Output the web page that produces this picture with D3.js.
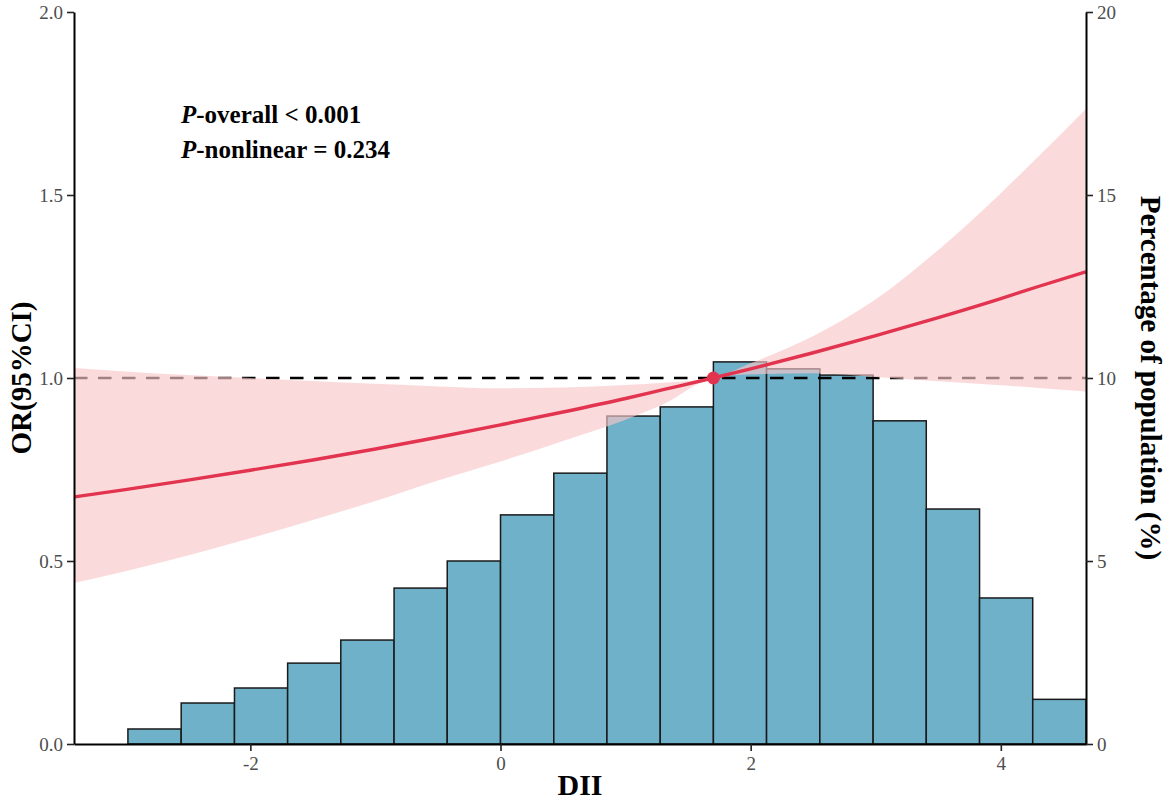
<!DOCTYPE html>
<html>
<head>
<meta charset="utf-8">
<script src="https://cdn.jsdelivr.net/npm/d3@7"></script>
<style>
  body { margin: 0; background: #fff; }
  svg { display: block; font-family: "Liberation Serif", "Times New Roman", serif; }
  .tick text { fill: #4d4d4d; font-size: 19px; font-family: "Liberation Serif", "Times New Roman", serif; }
  .tick line { stroke: #222; stroke-width: 1.6; }
  .domain { stroke: #000; stroke-width: 2; }
</style>
</head>
<body>
<svg id="chart" width="1170" height="801"></svg>
<script>
// histogram of DII (percentage of population per bin)
const BIN_EDGES = [-2.979, -2.553, -2.127, -1.702, -1.277, -0.851, -0.426, 0, 0.426, 0.851,
  1.277, 1.702, 2.127, 2.553, 2.979, 3.404, 3.830, 4.255, 4.681];
const BIN_PCT = [0.41, 1.12, 1.53, 2.21, 2.84, 4.26, 5.0, 6.26, 7.40, 8.96,
  9.21, 10.44, 10.25, 10.08, 8.83, 6.42, 3.99, 1.22];

// restricted cubic spline estimate with 95% CI
const DII = [-3.41, -3.0, -2.5, -2.0, -1.5, -1.0, -0.5, 0, 0.5, 1.0, 1.3, 1.7, 2.0, 2.5, 3.0, 3.5, 4.0, 4.3, 4.68];
const OR = [0.675, 0.695, 0.721, 0.748, 0.776, 0.806, 0.838, 0.872, 0.907, 0.944, 0.968, 1.0, 1.025, 1.069, 1.116, 1.165, 1.217, 1.25, 1.29];
const OR_LOWER = [0.44, 0.472, 0.515, 0.562, 0.612, 0.664, 0.72, 0.772, 0.828, 0.886, 0.928, 1.0, 1.01, 1.013, 1.003, 0.991, 0.98, 0.973, 0.963];
const OR_UPPER = [1.027, 1.018, 1.008, 1.0, 0.992, 0.984, 0.977, 0.972, 0.974, 0.981, 0.987, 1.0, 1.04, 1.115, 1.215, 1.35, 1.505, 1.605, 1.735];

const REF_DII = 1.702;
const REF_OR = 1;

const X_TICKS = [-2, 0, 2, 4];
const OR_TICKS = [0, 0.5, 1, 1.5, 2];
const PCT_TICKS = [0, 5, 10, 15, 20];

var svg = d3.select("#chart");
var margin = { top: 12, bottom: 57, left: 74, right: 84 };
var width = 1170, height = 801;

var xScale = d3.scaleLinear().domain([-3.41, 4.681]).range([margin.left, width - margin.right]);
var yScale = d3.scaleLinear().domain([0, 2]).range([height - margin.bottom, margin.top]);
var pctScale = d3.scaleLinear().domain([0, 20]).range([height - margin.bottom, margin.top]);

var bars = BIN_PCT.map((p, i) => ({ x0: BIN_EDGES[i], x1: BIN_EDGES[i + 1], pct: p }));
var spline = DII.map((d, i) => ({ x: d, or: OR[i], lo: OR_LOWER[i], hi: OR_UPPER[i] }));

//HISTOGRAM
svg.append("g")
  .selectAll("rect")
  .data(bars)
  .join("rect")
  .attr("x", (d) => xScale(d.x0))
  .attr("y", (d) => pctScale(d.pct))
  .attr("width", (d) => xScale(d.x1) - xScale(d.x0))
  .attr("height", (d) => pctScale(0) - pctScale(d.pct))
  .attr("fill", "#6fb1c9")
  .attr("stroke", "#1a1a1a")
  .attr("stroke-width", 1.5);

//REFERENCE LINE OR = 1
svg.append("line")
  .attr("x1", xScale.range()[0])
  .attr("x2", xScale.range()[1])
  .attr("y1", yScale(1))
  .attr("y2", yScale(1))
  .attr("stroke", "#000")
  .attr("stroke-width", 2.4)
  .attr("stroke-dasharray", "13.5,10.5");

//CONFIDENCE BAND
var area = d3.area()
  .x((d) => xScale(d.x))
  .y0((d) => yScale(d.lo))
  .y1((d) => yScale(d.hi))
  .curve(d3.curveMonotoneX);

svg.append("path")
  .datum(spline)
  .attr("d", area)
  .attr("fill", "#f9c6c9")
  .attr("fill-opacity", 0.65);

//OR CURVE
var line = d3.line()
  .x((d) => xScale(d.x))
  .y((d) => yScale(d.or))
  .curve(d3.curveMonotoneX);

svg.append("path")
  .datum(spline)
  .attr("d", line)
  .attr("fill", "none")
  .attr("stroke", "#e2344f")
  .attr("stroke-width", 3.4);

svg.append("circle")
  .attr("cx", xScale(REF_DII))
  .attr("cy", yScale(REF_OR))
  .attr("r", 6.5)
  .attr("fill", "#e2344f");

//AXES
svg.append("g")
  .attr("transform", `translate(0,${height - margin.bottom})`)
  .call(d3.axisBottom(xScale).tickValues(X_TICKS).tickFormat((d) => String(d)).tickSize(7).tickSizeOuter(0).tickPadding(6));

svg.append("g")
  .attr("transform", `translate(${margin.left},0)`)
  .call(d3.axisLeft(yScale).tickValues(OR_TICKS).tickFormat(d3.format(".1f")).tickSize(7).tickSizeOuter(0).tickPadding(4));

svg.append("g")
  .attr("transform", `translate(${width - margin.right},0)`)
  .call(d3.axisRight(pctScale).tickValues(PCT_TICKS).tickFormat((d) => String(d)).tickSize(7).tickSizeOuter(0).tickPadding(4));

svg.selectAll("g").attr("font-family", null).attr("font-size", null);

//TITLES
svg.append("text")
  .attr("x", (margin.left + width - margin.right) / 2)
  .attr("y", 795)
  .attr("text-anchor", "middle")
  .attr("font-size", 30)
  .attr("font-weight", "bold")
  .text("DII");

svg.append("text")
  .attr("transform", `translate(31,${yScale(1)}) rotate(-90)`)
  .attr("text-anchor", "middle")
  .attr("font-size", 29)
  .attr("font-weight", "bold")
  .text("OR(95%CI)");

svg.append("text")
  .attr("transform", `translate(1141,${yScale(1)}) rotate(90)`)
  .attr("text-anchor", "middle")
  .attr("font-size", 29)
  .attr("font-weight", "bold")
  .text("Percentage of population (%)");

var note = svg.append("g").attr("font-size", 25).attr("font-weight", "bold");
var l1 = note.append("text").attr("x", 181).attr("y", 122.5);
l1.append("tspan").attr("font-style", "italic").text("P");
l1.append("tspan").text("-overall < 0.001");
var l2 = note.append("text").attr("x", 181).attr("y", 157.5);
l2.append("tspan").attr("font-style", "italic").text("P");
l2.append("tspan").text("-nonlinear = 0.234");
</script>
</body>
</html>
